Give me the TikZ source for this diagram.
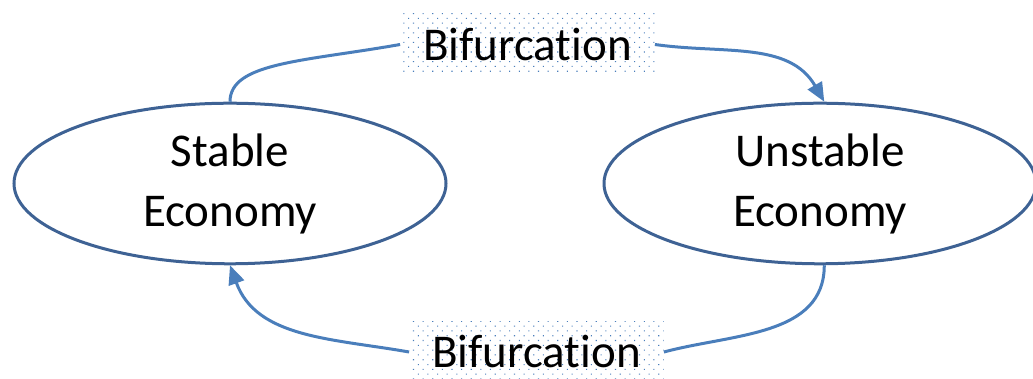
\documentclass[tikz,border=0pt]{standalone}
\usepackage{fontspec}
\setmainfont{Carlito}[Ligatures=NoCommon]
\usetikzlibrary{shapes.geometric,arrows.meta,patterns.meta}

\definecolor{rimblue}{RGB}{62,98,148}
\definecolor{linkblue}{RGB}{74,126,187}

\begin{document}
\begin{tikzpicture}[node distance={295pt},
    econ/.style = {draw=rimblue, line width=1.5pt, ellipse, minimum width=216pt, minimum height=75.5pt, align=center, font=\fontsize{23.5}{30}\selectfont},
    bif/.style = {pattern={Dots[angle=45,distance=3.4pt,radius=0.38pt]}, pattern color=linkblue, minimum width=127pt, minimum height=30.5pt, inner sep=0pt, font=\fontsize{23.5}{28}\selectfont},
    link/.style = {draw=linkblue, line width=1.5pt},
    tip/.style = {-{Triangle[length=9.5pt,width=8pt]}}]
    \useasboundingbox (0,0) rectangle (516.5pt,189.5pt);
    \node[econ] (stable) at (115pt,97.75pt) {Stable\\Economy};
    \node[econ] (unstable) [right of=stable] {Unstable\\Economy};
    \node[bif] (topbif) at (263.75pt,167.25pt) {Bifurcation};
    \node[bif] (botbif) at (268.25pt,13.5pt) {Bifurcation};
    \draw[link] (stable.north) to[out=90,in=190,out looseness=0.56,in looseness=1.4] (topbif.west);
    \draw[link,tip] (topbif.east) to[out=-8,in=120] (unstable.87);
    \draw[link] (unstable.-87) to[out=-90,in=15] (botbif.east);
    \draw[link,tip] (botbif.west) to[out=170,in=-70] (stable.south);
\end{tikzpicture}
\end{document}
